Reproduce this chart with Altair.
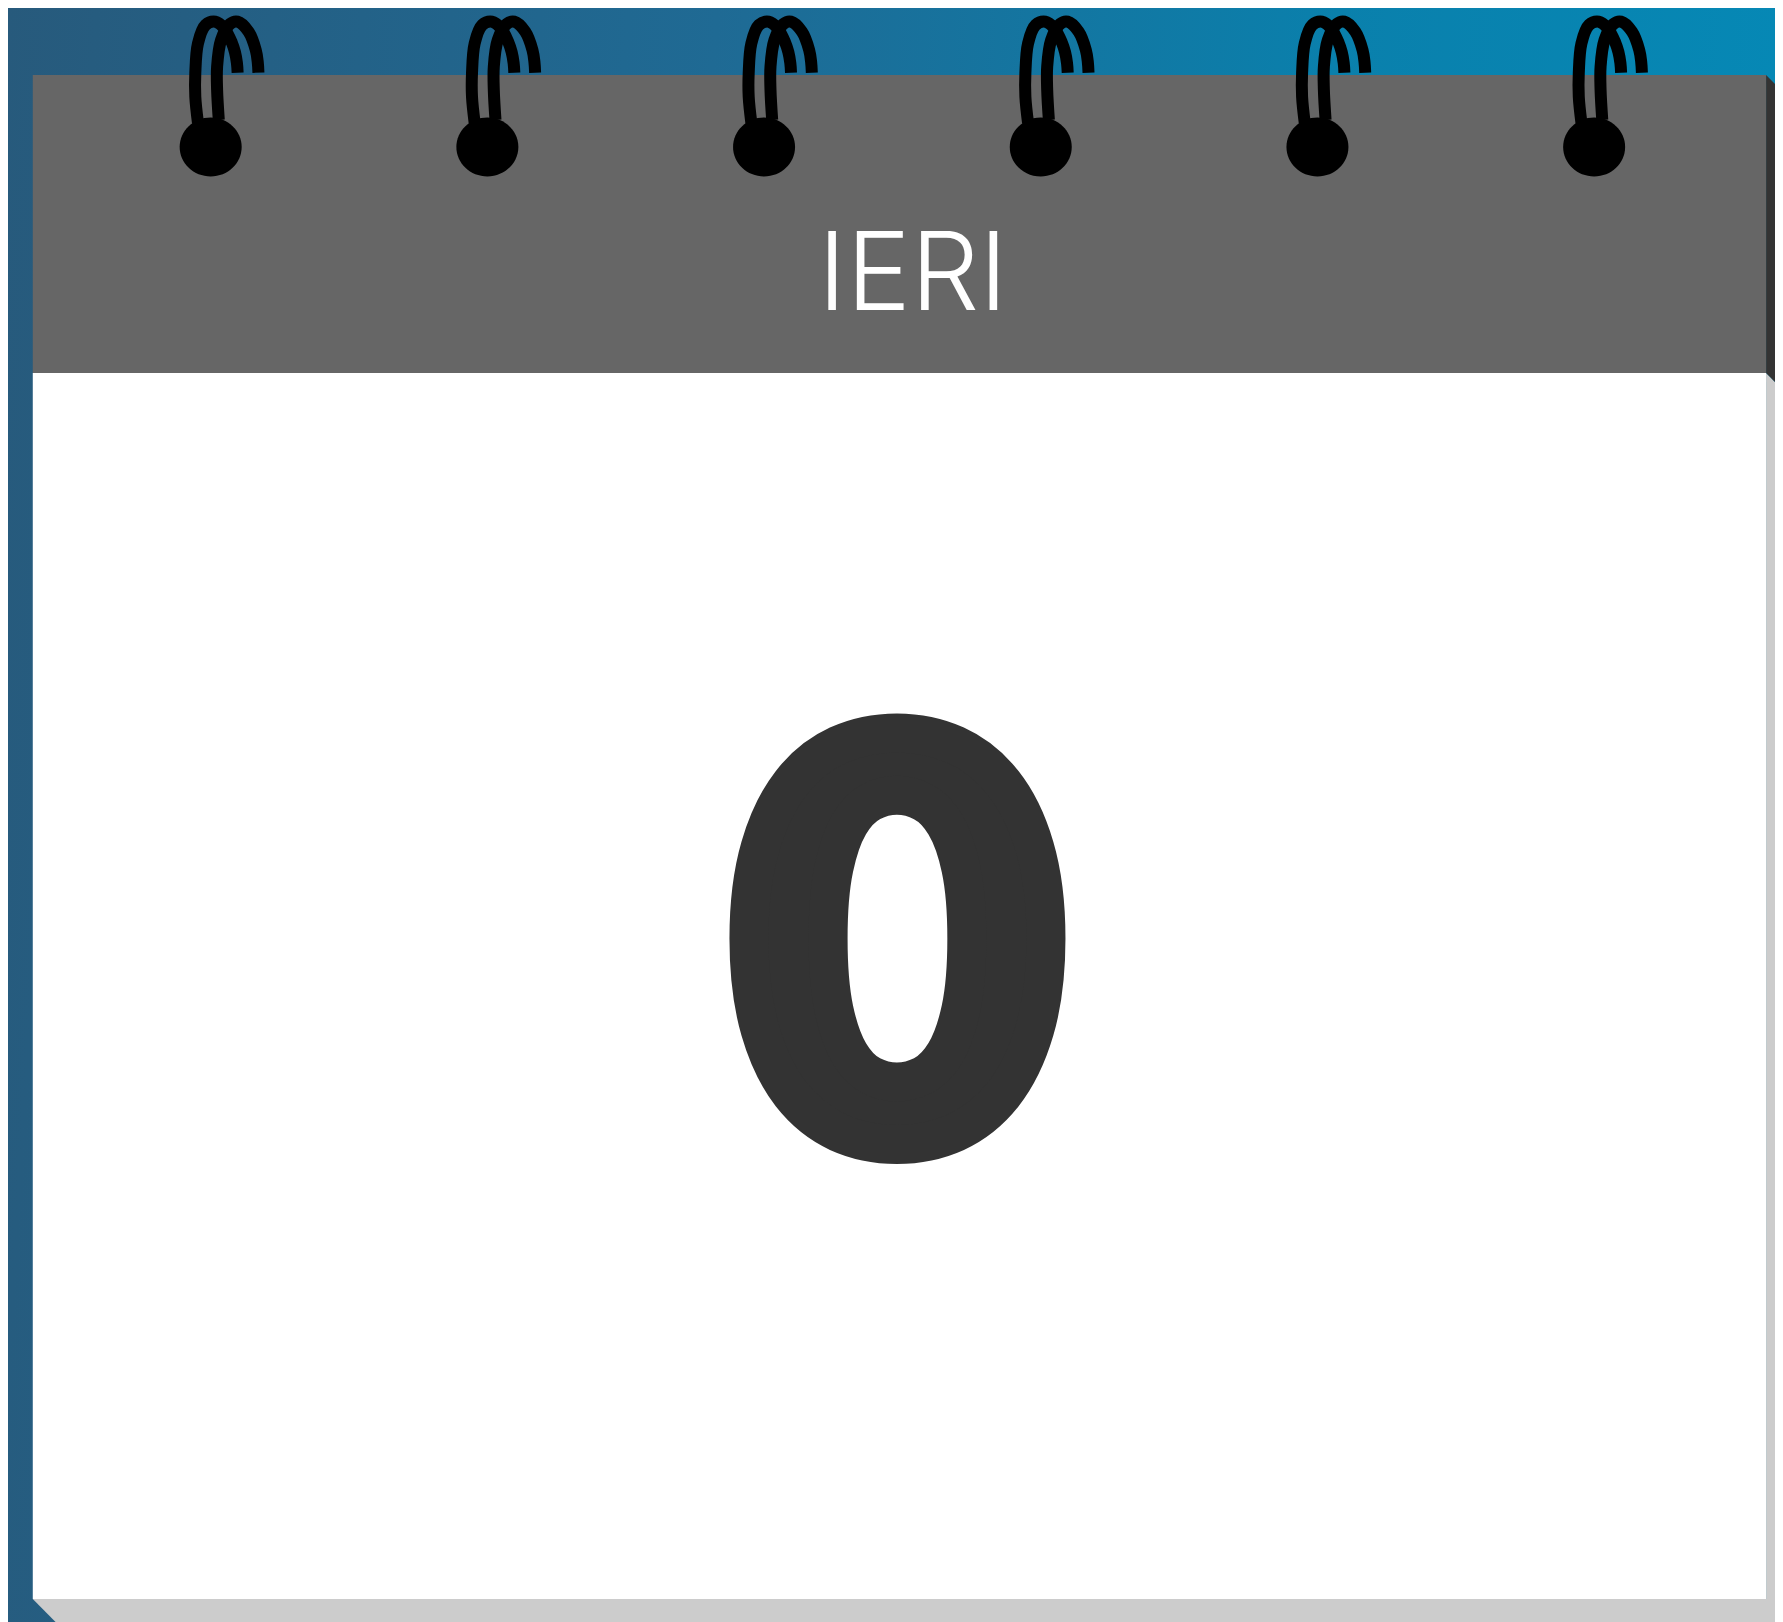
import altair as alt
import pandas as pd

# The page keeps its margin, so the picture is mapped onto the free area:
# y keeps its pixel positions below the margin, x is narrowed around the centre.
PLOT_W, PLOT_H = 1767, 1614
X_DOMAIN = [0, 1783]
Y_DOMAIN = [1622, 8]

# Sheet layout, in picture units
bg_x, bg_x2, bg_y, bg_y2 = [0], [1783], [8], [1622]
sheet_x, sheet_x2, sheet_y, sheet_y2 = [25], [1774], [373], [1599]
head_x, head_x2, head_y, head_y2 = [25], [1774], [75], [373]

# Shadows: x, top edge, bottom edge
shadow_light_x = [1774, 1783]
shadow_light_top = [373, 382]
shadow_light_bottom = [1622, 1622]
shadow_foot_x = [25, 48, 1783]
shadow_foot_top = [1599, 1599, 1599]
shadow_foot_bottom = [1599, 1622, 1622]
shadow_dark_x = [1774, 1783]
shadow_dark_top = [75, 84]
shadow_dark_bottom = [373, 382]

# Binder rings
ring_x = [204.5, 483.7, 762.9, 1042.1, 1321.3, 1600.5]
ring_y = [147]
strand_a_dx = [-12.8, -15.5, -15.5, -12.8, -5.2, 4.8, 13.8, 21.5, 24.5, 26.5, 27.2]
strand_a_y = [123, 96.7, 73.3, 43.3, 25, 21.7, 28.3, 43, 52, 63, 72.7]
strand_b_dx = [8.2, 6.5, 6.5, 10.5, 19.5, 27.2, 38.2, 45.5, 47.5, 48.2]
strand_b_y = [120, 90, 66.7, 40, 24, 21.7, 31.7, 50, 62, 72.7]

label_text = ["IERI"]
label_x, label_y = [913], [310]
value_text = ["0"]
value_x, value_y = [897.5], [1140]

X = alt.Scale(domain=X_DOMAIN, nice=False, zero=False)
Y = alt.Scale(domain=Y_DOMAIN, nice=False, zero=False)
xe = lambda f="x": alt.X(f, type="quantitative", scale=X, axis=None)
ye = lambda f="y": alt.Y(f, type="quantitative", scale=Y, axis=None)


def rect(x, x2, y, y2, color):
    d = pd.DataFrame({"x": x, "x2": x2, "y": y, "y2": y2})
    return alt.Chart(d).mark_rect(color=color, strokeWidth=0).encode(
        x=xe(), x2="x2:Q", y=ye(), y2="y2:Q"
    )


def wedge(x, top, bottom, color):
    d = pd.DataFrame({"x": x, "y": top, "y2": bottom})
    return alt.Chart(d).mark_area(color=color, interpolate="linear").encode(
        x=xe(), y=ye(), y2="y2:Q"
    )


gradient = alt.Gradient(
    gradient="linear",
    x1=0, y1=0, x2=1, y2=0.06,
    stops=[
        alt.GradientStop(color="#275a7c", offset=0),
        alt.GradientStop(color="#1f6a94", offset=0.4),
        alt.GradientStop(color="#0a80ac", offset=0.75),
        alt.GradientStop(color="#0688b5", offset=1),
    ],
)

rows = []
for i, rx in enumerate(ring_x):
    for s, (dxs, ys) in enumerate(((strand_a_dx, strand_a_y), (strand_b_dx, strand_b_y))):
        for k, (dx, y) in enumerate(zip(dxs, ys)):
            rows.append({"strand": f"{i}-{s}", "k": k, "x": rx + dx, "y": y})
strands = alt.Chart(pd.DataFrame(rows)).mark_line(
    color="#000000", strokeWidth=12, interpolate="catmull-rom", strokeCap="butt", strokeJoin="round"
).encode(x=xe(), y=ye(), detail="strand:N", order="k:Q")

balls = alt.Chart(pd.DataFrame({"x": ring_x, "y": ring_y * len(ring_x)})).mark_point(
    filled=True, color="#000000", opacity=1, size=3844, strokeWidth=0,
    shape="M-1,0A1,0.95,0,1,1,1,0A1,0.95,0,1,1,-1,0Z",
).encode(x=xe(), y=ye())

label = alt.Chart(pd.DataFrame({"x": label_x, "y": label_y, "t": label_text})).mark_text(
    font="Inter", fontWeight=300, fontSize=108, color="#ffffff", baseline="alphabetic", align="center"
).encode(x=xe(), y=ye(), text="t:N")

# No installed font is as heavy as the reference's digit, so an outline thickens it.
value = alt.Chart(pd.DataFrame({"x": value_x, "y": value_y, "t": value_text})).mark_text(
    font="Lato", fontWeight=900, fontSize=555, color="#333333", stroke="#333333", strokeWidth=39,
    baseline="alphabetic", align="center"
).encode(x=xe(), y=ye(), text="t:N")

chart = alt.layer(
    rect(bg_x, bg_x2, bg_y, bg_y2, gradient),
    wedge(shadow_light_x, shadow_light_top, shadow_light_bottom, "#cccccc"),
    wedge(shadow_foot_x, shadow_foot_top, shadow_foot_bottom, "#cccccc"),
    wedge(shadow_dark_x, shadow_dark_top, shadow_dark_bottom, "#333333"),
    rect(head_x, head_x2, head_y, head_y2, "#666666"),
    rect(sheet_x, sheet_x2, sheet_y, sheet_y2, "#ffffff"),
    strands,
    balls,
    label,
    value,
).properties(
    width=PLOT_W,
    height=PLOT_H,
    padding=0,
    background="#ffffff",
).configure_view(stroke=None)

chart.save("out.html", embed_options={"renderer": "svg", "actions": False})
